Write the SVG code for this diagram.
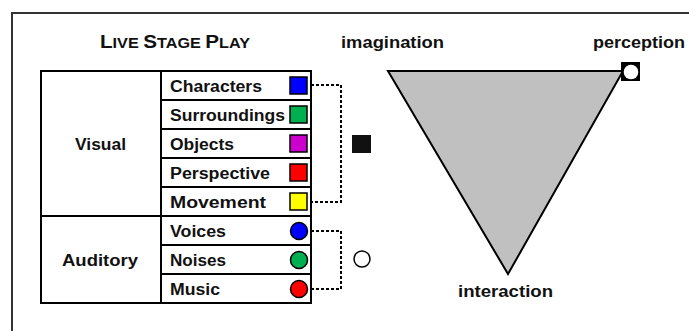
<svg xmlns="http://www.w3.org/2000/svg" width="689" height="331" viewBox="0 0 689 331">
<style>
text{font-family:"Liberation Sans",Arial,sans-serif;font-weight:bold;fill:#111;}
.lbl{font-size:16px;}
.cell{fill:#fff;stroke:#000;stroke-width:2;}
.sw{stroke:#000;stroke-width:1.5;}
.dot{fill:none;stroke:#000;stroke-width:2;stroke-dasharray:3 2;}
</style>
<rect x="12" y="13" width="720" height="360" fill="#fff" stroke="#333" stroke-width="2"/>
<text x="175" y="48" text-anchor="middle" textLength="150" lengthAdjust="spacingAndGlyphs"><tspan font-size="18.5">L</tspan><tspan font-size="14.5">IVE </tspan><tspan font-size="18.5">S</tspan><tspan font-size="14.5">TAGE </tspan><tspan font-size="18.5">P</tspan><tspan font-size="14.5">LAY</tspan></text>
<g id="table">
<rect class="cell" x="41" y="71" width="120" height="145"/>
<rect class="cell" x="41" y="216" width="120" height="87"/>
<text class="lbl" x="100.5" y="150" text-anchor="middle" textLength="51" lengthAdjust="spacingAndGlyphs">Visual</text>
<text class="lbl" x="100" y="266" text-anchor="middle" textLength="76" lengthAdjust="spacingAndGlyphs">Auditory</text>
</g>
<g id="characters"><rect class="cell" x="161" y="71" width="150" height="29"/><text class="lbl" x="170" y="92" textLength="92" lengthAdjust="spacingAndGlyphs">Characters</text><rect class="sw" x="290" y="77" width="17" height="17" fill="#0000ff"/></g>
<g id="surroundings"><rect class="cell" x="161" y="100" width="150" height="29"/><text class="lbl" x="170" y="121" textLength="115" lengthAdjust="spacingAndGlyphs">Surroundings</text><rect class="sw" x="290" y="106" width="17" height="17" fill="#00b050"/></g>
<g id="objects"><rect class="cell" x="161" y="129" width="150" height="29"/><text class="lbl" x="170" y="150" textLength="64" lengthAdjust="spacingAndGlyphs">Objects</text><rect class="sw" x="290" y="135" width="17" height="17" fill="#cc00cc"/></g>
<g id="perspective"><rect class="cell" x="161" y="158" width="150" height="29"/><text class="lbl" x="170" y="179" textLength="100" lengthAdjust="spacingAndGlyphs">Perspective</text><rect class="sw" x="290" y="164" width="17" height="17" fill="#ff0000"/></g>
<g id="movement"><rect class="cell" x="161" y="187" width="150" height="29"/><text class="lbl" x="170" y="208" textLength="96" lengthAdjust="spacingAndGlyphs">Movement</text><rect class="sw" x="290" y="193" width="17" height="17" fill="#ffff00"/></g>
<g id="voices"><rect class="cell" x="161" y="216" width="150" height="29"/><text class="lbl" x="170" y="237" textLength="56" lengthAdjust="spacingAndGlyphs">Voices</text><circle class="sw" cx="299" cy="231" r="8.5" fill="#0000ff"/></g>
<g id="noises"><rect class="cell" x="161" y="245" width="150" height="29"/><text class="lbl" x="170" y="266" textLength="56" lengthAdjust="spacingAndGlyphs">Noises</text><circle class="sw" cx="299" cy="260" r="8.5" fill="#00b050"/></g>
<g id="music"><rect class="cell" x="161" y="274" width="150" height="29"/><text class="lbl" x="170" y="295" textLength="50" lengthAdjust="spacingAndGlyphs">Music</text><circle class="sw" cx="299" cy="289" r="8.5" fill="#ff0000"/></g>
<g id="connectors">
<polyline class="dot" points="311,85 341,85 341,202 311,202"/>
<polyline class="dot" points="311,231 341,231 341,289 311,289"/>
</g>
<g id="visual-marker"><rect x="352" y="135" width="19" height="18" fill="#111"/></g>
<g id="auditory-marker"><circle cx="362" cy="259" r="8" fill="#fff" stroke="#000" stroke-width="1.5"/></g>
<g id="triangle"><polygon points="388,71 623,71 508,274" fill="#c0c0c0" stroke="#000" stroke-width="2" stroke-linejoin="miter"/></g>
<g id="perception-marker"><rect x="621" y="62" width="19" height="19" fill="#000"/><circle cx="631" cy="72" r="7.3" fill="#fff"/></g>
<text class="lbl" x="341" y="48" textLength="103" lengthAdjust="spacingAndGlyphs">imagination</text>
<text class="lbl" x="593" y="48" textLength="92" lengthAdjust="spacingAndGlyphs">perception</text>
<text class="lbl" x="458" y="297" textLength="95" lengthAdjust="spacingAndGlyphs">interaction</text>
</svg>
